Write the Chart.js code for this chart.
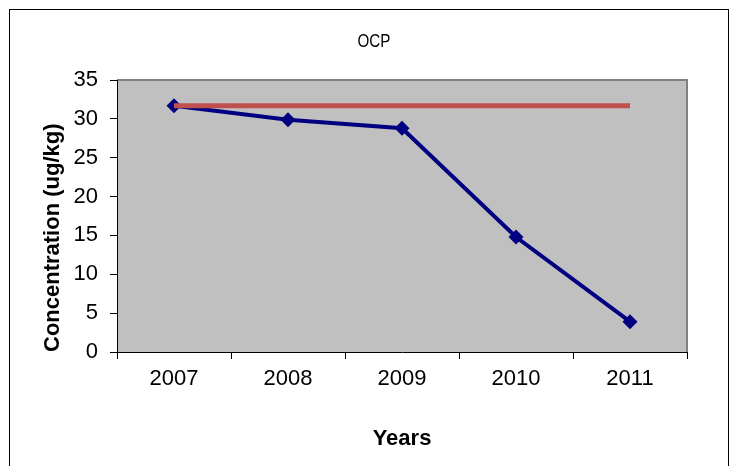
<!DOCTYPE html>
<html>
<head>
<meta charset="utf-8">
<script src="https://cdn.jsdelivr.net/npm/chart.js@4/dist/chart.umd.min.js"></script>
<style>
  html, body { margin: 0; padding: 0; background: #ffffff; }
  #wrap { width: 733px; height: 466px; }
</style>
</head>
<body>
<div id="wrap"><canvas id="c" width="733" height="466"></canvas></div>
<script>
const years = ['2007', '2008', '2009', '2010', '2011'];
const ocpValues = [31.7, 29.9, 28.8, 14.8, 3.9];
const referenceLevel = [31.7, 31.7, 31.7, 31.7, 31.7];
const yTicks = [0, 5, 10, 15, 20, 25, 30, 35];

const chartTitle = 'OCP';
const FONT = 'Liberation Sans, Arial, sans-serif';

// outer frame, grey plot area and the (slightly condensed) title
const decor = {
  id: 'decor',
  beforeDraw(chart) {
    const { ctx, chartArea: a } = chart;
    ctx.save();
    ctx.fillStyle = '#ffffff';
    ctx.fillRect(0, 0, chart.width, chart.height);
    ctx.strokeStyle = '#000000';
    ctx.lineWidth = 1;
    ctx.strokeRect(9.5, 9.5, 719, 470);
    ctx.fillStyle = '#c0c0c0';
    ctx.fillRect(a.left, a.top, a.right - a.left, a.bottom - a.top);
    ctx.strokeStyle = '#808080';
    ctx.lineWidth = 2;
    ctx.beginPath();
    ctx.moveTo(a.left, a.top);
    ctx.lineTo(a.right, a.top);
    ctx.lineTo(a.right, a.bottom);
    ctx.stroke();
    ctx.fillStyle = '#000000';
    ctx.font = '19px ' + FONT;
    ctx.textAlign = 'center';
    ctx.textBaseline = 'middle';
    ctx.translate(374, 42);
    ctx.scale(0.8, 1);
    ctx.fillText(chartTitle, 0, 0);
    ctx.restore();
  }
};

new Chart(document.getElementById('c'), {
  type: 'line',
  data: {
    labels: years,
    datasets: [
      {
        label: 'OCP',
        data: ocpValues,
        borderColor: '#000080',
        backgroundColor: '#000080',
        borderWidth: 4,
        pointStyle: 'rectRot',
        pointRadius: 7.5,
        pointBorderWidth: 0,
        tension: 0,
        order: 1
      },
      {
        label: 'Limit',
        data: referenceLevel,
        borderColor: '#c0504d',
        borderWidth: 5,
        pointRadius: 0,
        tension: 0,
        order: 0
      }
    ]
  },
  options: {
    responsive: false,
    animation: false,
    layout: { padding: { left: 0, right: 46, top: 80, bottom: 0 } },
    plugins: {
      legend: { display: false },
      title: { display: false },
      tooltip: { enabled: false }
    },
    scales: {
      x: {
        offset: true,
        grid: {
          offset: true,
          drawOnChartArea: false,
          drawTicks: true,
          tickLength: 7,
          tickColor: '#000000',
          lineWidth: 1
        },
        border: { display: true, color: '#000000', width: 1 },
        ticks: {
          color: '#000000',
          padding: 7,
          maxRotation: 0,
          font: { family: FONT, size: 22 }
        },
        title: {
          display: true,
          text: 'Years',
          color: '#000000',
          font: { family: FONT, size: 22, weight: 'bold' },
          padding: { top: 0, bottom: 14 }
        },
        afterFit(scale) { scale.height = 114; }
      },
      y: {
        min: 0,
        max: 35,
        afterBuildTicks(scale) { scale.ticks = yTicks.map(v => ({ value: v })); },
        grid: {
          drawOnChartArea: false,
          drawTicks: true,
          tickLength: 7,
          tickColor: '#000000'
        },
        border: { display: true, color: '#000000', width: 1 },
        ticks: {
          color: '#000000',
          padding: 12,
          font: { family: FONT, size: 22 }
        },
        title: {
          display: true,
          text: 'Concentration (ug/kg)',
          align: 'start',
          color: '#000000',
          font: { family: FONT, size: 22, weight: 'bold' },
          padding: { top: 40, bottom: 0 }
        },
        afterFit(scale) { scale.width = 117; }
      }
    }
  },
  plugins: [decor]
});
</script>
</body>
</html>
